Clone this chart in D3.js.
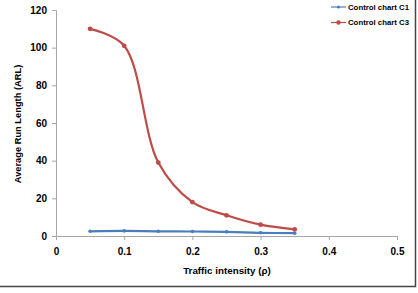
<!DOCTYPE html>
<html>
<head>
<meta charset="utf-8">
<script src="https://cdn.jsdelivr.net/npm/d3@7"></script>
<style>
  body { margin: 0; background: #fff; }
  svg { display: block; font-family: "Liberation Sans", Arial, sans-serif; }
</style>
</head>
<body>
<div class="chart"></div>
<script>
// data
const rho = [0.05, 0.1, 0.15, 0.2, 0.25, 0.3, 0.35];
const arlC1 = [2.5, 2.7, 2.5, 2.4, 2.2, 1.7, 1.5];
const arlC3 = [110, 101, 39, 18, 11, 6, 3.5];
const seriesNames = ["Control chart C1", "Control chart C3"];
const seriesColors = ["#4a7ebb", "#be4b48"];
const xTicks = [0, 0.1, 0.2, 0.3, 0.4, 0.5];
const yTicks = [0, 20, 40, 60, 80, 100, 120];

const width = 418, height = 293;
const margin = {left: 56, right: 21, top: 10, bottom: 57};

const svg = d3.select(".chart").append("svg")
  .attr("width", width)
  .attr("height", height);

const x = d3.scaleLinear().domain([0, 0.5]).range([margin.left, width - margin.right]);
const y = d3.scaleLinear().domain([0, 120]).range([height - margin.bottom, margin.top]);

// frame (right + bottom edge only visible)
svg.append("path")
  .attr("d", `M415.5,0 V286.5 H0`)
  .attr("fill", "none")
  .attr("stroke", "#444")
  .attr("stroke-width", 1.5);

// y axis
const yAxis = svg.append("g")
  .attr("transform", `translate(${margin.left},0)`)
  .call(d3.axisLeft(y).tickValues(yTicks).tickSize(4).tickPadding(5));
yAxis.select(".domain").attr("stroke", "#a6a6a6");
yAxis.selectAll(".tick line").attr("stroke", "#a6a6a6");
yAxis.selectAll("text").attr("font-size", 10).attr("font-weight", "bold").attr("fill", "#000");

// x axis
const xAxis = svg.append("g")
  .attr("transform", `translate(0,${y(0)})`)
  .call(d3.axisBottom(x).tickValues(xTicks).tickFormat(d3.format("")).tickSize(4).tickPadding(8));
xAxis.select(".domain").attr("stroke", "#a6a6a6");
xAxis.selectAll(".tick line").attr("stroke", "#a6a6a6");
xAxis.selectAll("text").attr("font-size", 10).attr("font-weight", "bold").attr("fill", "#000");

// axis titles
svg.append("text")
  .attr("x", 227)
  .attr("y", 274)
  .attr("text-anchor", "middle")
  .attr("font-size", 9.8)
  .attr("font-weight", "bold")
  .text("Traffic intensity (\u03c1)");

svg.append("text")
  .attr("transform", `translate(21,${y(60) + 1}) rotate(-90)`)
  .attr("text-anchor", "middle")
  .attr("font-size", 9.3)
  .attr("font-weight", "bold")
  .text("Average Run Length (ARL)");

// lines
const line = d3.line()
  .x(d => x(d[0]))
  .y(d => y(d[1]))
  .curve(d3.curveCatmullRom.alpha(0.5));

[arlC1, arlC3].forEach((vals, i) => {
  const pts = rho.map((r, j) => [r, vals[j]]);
  svg.append("path")
    .datum(pts)
    .attr("fill", "none")
    .attr("stroke", seriesColors[i])
    .attr("stroke-width", 2.2)
    .attr("d", line);
  svg.append("g").selectAll("circle")
    .data(pts)
    .enter().append("circle")
    .attr("cx", d => x(d[0]))
    .attr("cy", d => y(d[1]))
    .attr("r", i === 0 ? 1.8 : 2.4)
    .attr("fill", seriesColors[i]);
});

// legend
const legend = svg.append("g").attr("transform", "translate(331,7)");
seriesNames.forEach((name, i) => {
  const g = legend.append("g").attr("transform", `translate(0,${i * 15.5})`);
  g.append("line")
    .attr("x1", 0).attr("x2", 15)
    .attr("stroke", seriesColors[i])
    .attr("stroke-width", 1.2);
  g.append("circle").attr("cx", 7.5).attr("r", i === 0 ? 1.6 : 2.2).attr("fill", seriesColors[i]);
  g.append("text")
    .attr("x", 17)
    .attr("dy", "0.35em")
    .attr("font-size", 8)
    .attr("font-weight", "bold")
    .attr("textLength", 61)
    .attr("lengthAdjust", "spacingAndGlyphs")
    .text(name);
});
</script>
</body>
</html>
